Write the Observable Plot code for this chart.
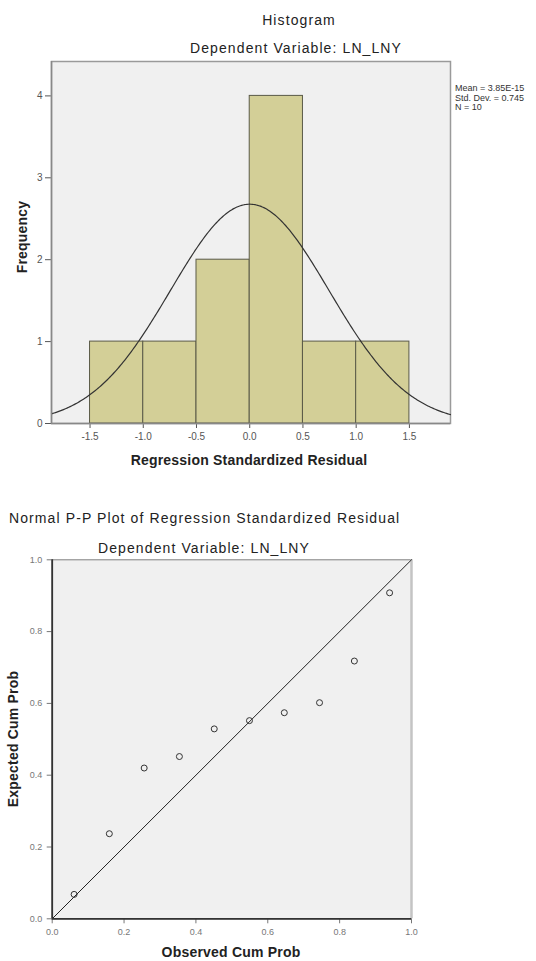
<!DOCTYPE html>
<html>
<head>
<meta charset="utf-8">
<script src="https://cdn.jsdelivr.net/npm/d3@7"></script>
<script src="https://cdn.jsdelivr.net/npm/@observablehq/plot@0.6"></script>
<style>
  html, body { margin: 0; padding: 0; background: #fff; }
  #wrap { position: relative; width: 536px; height: 961px; overflow: hidden; font-family: "Liberation Sans", Arial, sans-serif; color: #222; }
  .t { position: absolute; white-space: nowrap; transform: translate(-50%, -50%); }
  .title { font-size: 14px; letter-spacing: 1.1px; }
  .axlab { font-size: 14px; font-weight: bold; letter-spacing: 0.2px; }
  .rot { transform: translate(-50%, -50%) rotate(-90deg); }
  .plot { position: absolute; left: 0; }
  #legend { position: absolute; left: 455px; top: 84px; font-size: 9px; line-height: 9.6px; color: #333; white-space: nowrap; }
</style>
</head>
<body>
<div id="wrap">
  <div class="t title" style="left:299px; top:20px;">Histogram</div>
  <div class="t title" style="left:296px; top:48px;">Dependent Variable: LN_LNY</div>
  <div id="legend"></div>
  <div class="t axlab" style="left:249px; top:460px;">Regression Standardized Residual</div>
  <div class="t axlab rot" style="left:22px; top:237px;">Frequency</div>

  <div class="title" style="position:absolute; left:9px; top:510px; white-space:nowrap;">Normal P-P Plot of Regression Standardized Residual</div>
  <div class="t title" style="left:204px; top:548px;">Dependent Variable: LN_LNY</div>
  <div class="t axlab" style="left:231px; top:952px;">Observed Cum Prob</div>
  <div class="t axlab rot" style="left:13px; top:739px;">Expected Cum Prob</div>
</div>
<script>
// ---- Histogram data ----
const binStarts = [-1.5, -1.0, -0.5, 0.0, 0.5, 1.0];
const binWidth = 0.5;
const binCounts = [1, 1, 2, 4, 1, 1];
const histXTicks = [-1.5, -1.0, -0.5, 0.0, 0.5, 1.0, 1.5];
const histYTicks = [0, 1, 2, 3, 4];
const statMean = 3.85e-15;
const statSD = 0.745;
const statN = 10;
const legendLines = ["Mean = 3.85E-15", "Std. Dev. = 0.745", "N = 10"];

// ---- P-P plot data ----
const observedCum = [0.061, 0.159, 0.256, 0.354, 0.451, 0.549, 0.646, 0.744, 0.841, 0.939];
const expectedCum = [0.068, 0.237, 0.420, 0.452, 0.529, 0.552, 0.574, 0.602, 0.718, 0.908];
const diagonal = [0, 1];
const ppTicks = [0, 0.2, 0.4, 0.6, 0.8, 1.0];

document.getElementById("legend").innerHTML = legendLines.join("<br>");

const bars = binStarts.map((s, i) => ({x1: s, x2: s + binWidth, count: binCounts[i]}));
const xDomain = [-1.862, 1.886];
// theoretical normal density curve from the stated mean / sd / N
const curve = d3.range(0, 301).map(i => {
  const x = xDomain[0] + (xDomain[1] - xDomain[0]) * i / 300;
  const z = (x - statMean) / statSD;
  return {x, y: statN * binWidth * Math.exp(-0.5 * z * z) / (statSD * Math.sqrt(2 * Math.PI))};
});

const hist = Plot.plot({
  width: 536, height: 480,
  marginLeft: 51, marginRight: 86, marginTop: 61, marginBottom: 57,
  style: {fontFamily: "'Liberation Sans', Arial, sans-serif", fontSize: "10px", color: "#555", background: "transparent"},
  x: {domain: xDomain, ticks: histXTicks, tickFormat: d => d.toFixed(1), tickSize: 5, tickPadding: 4, label: null},
  y: {domain: [0, 4.42], ticks: histYTicks, tickFormat: d => String(d), tickSize: 6, tickPadding: 3, label: null},
  marks: [
    Plot.frame({fill: "#f0f0f0", stroke: "#9a9a9a", strokeWidth: 1.5}),
    Plot.rect(bars, {x1: "x1", x2: "x2", y1: 0, y2: "count", fill: "#d3cf97", stroke: "#5a5a48", strokeWidth: 1}),
    Plot.line(curve, {x: "x", y: "y", stroke: "#333", strokeWidth: 1.2}),
    Plot.ruleY([0], {stroke: "#888", strokeWidth: 1.5}),
    Plot.ruleX([xDomain[0]], {stroke: "#888", strokeWidth: 1.5})
  ]
});
hist.classList.add("plot");
hist.style.top = "0px";
document.getElementById("wrap").appendChild(hist);

const pts = observedCum.map((o, i) => ({o, e: expectedCum[i]}));
const pp = Plot.plot({
  width: 536, height: 481,
  marginLeft: 51.7, marginRight: 125, marginTop: 79.3, marginBottom: 42.7,
  style: {fontFamily: "'Liberation Sans', Arial, sans-serif", fontSize: "9px", color: "#777", background: "transparent"},
  x: {domain: [0, 1], ticks: ppTicks, tickFormat: d => d.toFixed(1), tickSize: 5, tickPadding: 5, label: null},
  y: {domain: [0, 1], ticks: ppTicks, tickFormat: d => d.toFixed(1), tickSize: 5, tickPadding: 5, label: null},
  marks: [
    Plot.frame({fill: "#f0f0f0", stroke: "#808080", strokeWidth: 1}),
    Plot.ruleX([1], {stroke: "#c4c4c4", strokeWidth: 2.5}),
    Plot.line(diagonal, {x: d => d, y: d => d, stroke: "#222", strokeWidth: 1}),
    Plot.dot(pts, {x: "o", y: "e", r: 3, stroke: "#333", strokeWidth: 1, fill: "none"}),
    Plot.ruleY([0], {stroke: "#333", strokeWidth: 1.8}),
    Plot.ruleX([0], {stroke: "#333", strokeWidth: 1.8})
  ]
});
pp.classList.add("plot");
pp.style.top = "480px";
document.getElementById("wrap").appendChild(pp);
</script>
</body>
</html>
